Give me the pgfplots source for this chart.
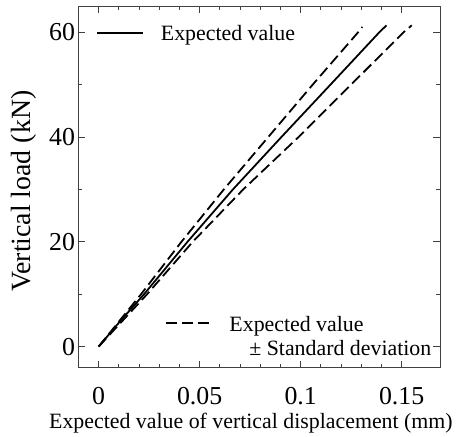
\documentclass[border=0pt]{standalone}
\usepackage{fontspec}
\setmainfont{Liberation Serif}
\usepackage{pgfplots}
\pgfplotsset{compat=1.18}
\pgfplotstableread{
x y
0 0
0.011 5
0.0225 10
0.044 20
0.0665 30
0.0905 40
0.1148 50
0.139 60
0.1425 61.3
}\datamid
\pgfplotstableread{
x y
0 0
0.0105 5
0.021 10
0.041 20
0.062 30
0.084 40
0.106 50
0.1285 60
0.1305 61.0
}\dataupper
\pgfplotstableread{
x y
0 0
0.012 5
0.024 10
0.0466 20
0.0716 30
0.099 40
0.125 50
0.151 60
0.155 61.3
}\datalower
\pgfplotsset{
  common/.style={
    scale only axis, width=364pt, height=364pt,
    xmin=-0.01, xmax=0.169, ymin=-4, ymax=65,
  },
  legend image code/.code={\draw[#1] (0pt,0pt) -- (46pt,0pt); \path[draw=none] (0pt,0pt) -- (62pt,0pt);},
}
\begin{document}
\begin{tikzpicture}
\begin{axis}[name=ax, common,
  xtick={0,0.05,0.1,0.15}, xticklabels={0,0.05,0.1,0.15},
  ytick={0,20,40,60}, yticklabels={0,20,40,60},
  minor x tick num=4, minor y tick num=1,
  tick align=inside,
  major tick length=7pt, minor tick length=4pt,
  axis line style={black!75, line width=0.8pt},
  every tick/.style={black!75, line width=0.8pt},
  ticklabel style={font=\fontsize{26}{30}\selectfont},
  xticklabel style={yshift=-16pt},
  /pgf/number format/assume math mode=true,
  xlabel={Expected value of vertical displacement (mm)},
  ylabel={Vertical load (kN)},
  xlabel style={font=\fontsize{22}{26}\selectfont, at={(axis description cs:0.477,-0.153)}, anchor=center},
  ylabel style={font=\fontsize{28}{32}\selectfont, at={(axis description cs:-0.152,0.488)}, anchor=center},
  legend style={draw=none, fill=none, font=\fontsize{22}{25}\selectfont,
    at={(axis description cs:0.041,0.959)}, anchor=north west},
  legend cell align=left,
]
\addplot[black, line width=1.8pt] table {\datamid};
\addlegendentry{Expected value}
\addplot[black, line width=1.8pt, dash pattern=on 11pt off 5pt, forget plot] table {\dataupper};
\addplot[black, line width=1.8pt, dash pattern=on 11pt off 5pt, forget plot] table {\datalower};
\end{axis}
\begin{axis}[common, hide axis,
  legend style={draw=none, fill=none, font=\fontsize{22}{25}\selectfont,
    at={(axis description cs:0.99,0.085)}, anchor=south east},
  legend cell align=left,
]
\addlegendimage{black, line width=1.8pt, dash pattern=on 11pt off 5pt}
\addlegendentry{\begin{tabular}[t]{@{}l@{}}Expected value\\\hspace{20pt}± Standard deviation\end{tabular}}
\end{axis}
\path ([shift={(-79pt,-69pt)}]ax.south west) rectangle ([shift={(13pt,6pt)}]ax.north east);
\end{tikzpicture}
\end{document}
